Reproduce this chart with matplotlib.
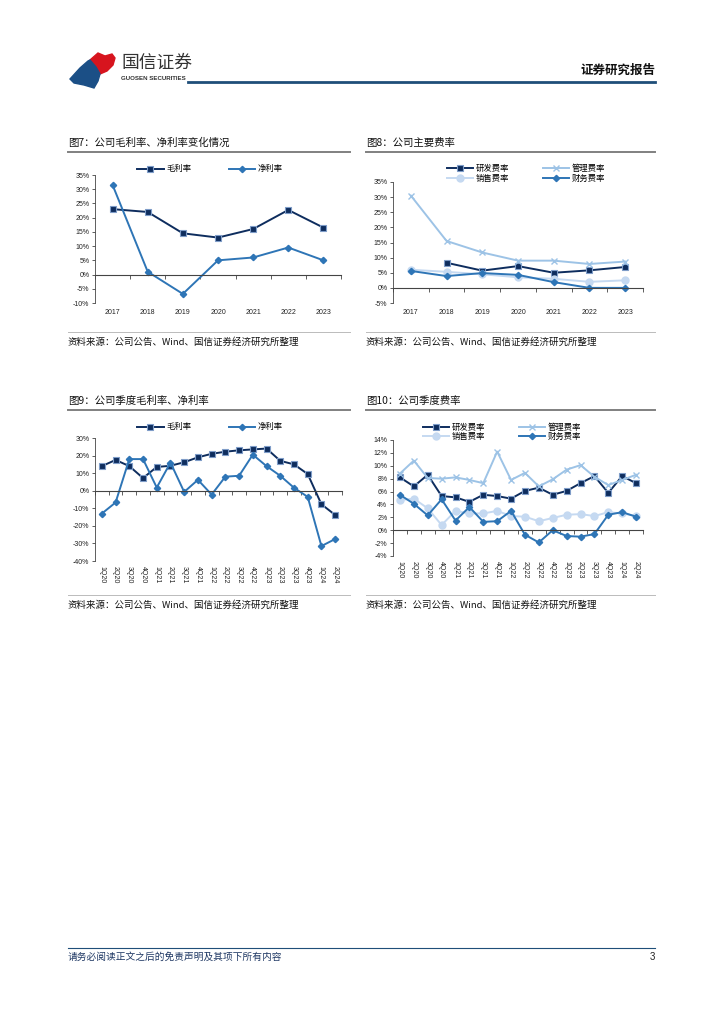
import numpy as np
import matplotlib
matplotlib.use("Agg")
import matplotlib.pyplot as plt
import matplotlib.transforms as mtransforms
from matplotlib.patches import Polygon
from matplotlib.lines import Line2D

plt.rcParams['font.family'] = ['Noto Sans CJK SC', 'DejaVu Sans']

# ---------------- data ----------------
years = ['2017', '2018', '2019', '2020', '2021', '2022', '2023']
gross_y = [23.0, 22.0, 14.5, 13.0, 16.0, 22.7, 16.5]
net_y = [31.5, 1.0, -6.8, 5.0, 6.0, 9.5, 5.0]

rd_y = [np.nan, 8.3, 5.7, 7.2, 5.0, 5.8, 6.9]
admin_y = [30.5, 15.5, 11.7, 9.0, 9.0, 7.9, 8.7]
sales_y = [6.0, 5.3, 4.5, 3.5, 3.0, 2.0, 2.5]
fin_y = [5.6, 3.9, 4.9, 4.3, 1.9, 0.0, 0.0]

quarters = ['1Q20', '2Q20', '3Q20', '4Q20', '1Q21', '2Q21', '3Q21', '4Q21', '1Q22',
            '2Q22', '3Q22', '4Q22', '1Q23', '2Q23', '3Q23', '4Q23', '1Q24', '2Q24']
gross_q = [14.0, 17.5, 14.0, 7.2, 13.5, 14.2, 16.2, 19.0, 21.0, 22.2, 23.0, 23.5, 24.0,
           17.0, 15.0, 9.5, -7.7, -13.8]
net_q = [-13.0, -6.7, 18.0, 18.0, 1.8, 16.0, -0.7, 6.2, -2.2, 8.0, 8.5, 20.5, 14.0,
         8.5, 1.7, -3.5, -31.5, -27.5]

rd_q = [8.2, 6.8, 8.6, 5.3, 5.1, 4.4, 5.5, 5.3, 4.9, 6.1, 6.6, 5.5, 6.1, 7.3, 8.4, 5.8, 8.4, 7.3]
admin_q = [8.8, 10.8, 8.1, 8.0, 8.2, 7.8, 7.3, 12.2, 7.8, 8.9, 6.8, 7.9, 9.4, 10.1, 8.3, 7.0, 7.8, 8.6]
sales_q = [4.7, 4.9, 3.4, 0.8, 3.0, 2.6, 2.6, 3.0, 2.2, 2.1, 1.4, 1.9, 2.4, 2.5, 2.2, 2.8, 2.6, 2.2]
fin_q = [5.5, 4.1, 2.3, 4.8, 1.5, 3.6, 1.3, 1.4, 3.0, -0.7, -1.9, 0.0, -0.9, -1.0, -0.6, 2.4, 2.8, 2.1]

# ---------------- layout ----------------
W, H = 724, 1024
fig = plt.figure(figsize=(W / 100, H / 100), dpi=100)

NAVY = '#0E2D5E'
NAVY_EDGE = '#7E9CC8'
BLUE = '#2E75B6'
LBLUE = '#9DC3E6'
VLBLUE = '#C5D9F1'
NUMFONT = ['Liberation Sans', 'DejaVu Sans']


def fx(x):
    return x / W


def fy(y):
    return 1 - y / H


def hline(x0, x1, y, color, lw):
    fig.add_artist(Line2D([fx(x0), fx(x1)], [fy(y), fy(y)], color=color, lw=lw,
                          transform=fig.transFigure))


def text(x, y, s, **kw):
    fig.text(fx(x), fy(y), s, **kw)


def make_ax(x0, x1, ytop, ybot, ylim, yticks, cats, label_y, rotate):
    ax = fig.add_axes([fx(x0), fy(ybot), fx(x1) - fx(x0), (ybot - ytop) / H])
    ax.set_ylim(*ylim)
    n = len(cats)
    ax.set_xlim(-0.5, n - 0.5)
    ax.set_yticks(yticks)
    ax.set_yticklabels(['%d%%' % v for v in yticks], fontsize=5, family=NUMFONT, color='#222222')
    ax.tick_params(axis='y', direction='out', length=2.5, width=0.6, pad=1.5, color='#444444')
    ax.set_xticks(np.arange(-0.5, n, 1.0))
    ax.set_xticklabels([])
    ax.tick_params(axis='x', direction='out', length=3, width=0.6, color='#444444')
    for s in ['top', 'right']:
        ax.spines[s].set_visible(False)
    ax.spines['left'].set_color('#444444')
    ax.spines['left'].set_linewidth(0.6)
    ax.spines['bottom'].set_position(('data', 0))
    ax.spines['bottom'].set_color('#444444')
    ax.spines['bottom'].set_linewidth(0.8)
    ax.patch.set_alpha(0)
    tr = mtransforms.blended_transform_factory(ax.transData, fig.transFigure)
    for i, c in enumerate(cats):
        if rotate:
            ax.text(i, fy(label_y), c, rotation=-90, ha='center', va='top', fontsize=5,
                    family=NUMFONT, transform=tr, color='#222222')
        else:
            ax.text(i, fy(label_y), c, ha='center', va='center', fontsize=5,
                    family=NUMFONT, transform=tr, color='#222222')
    return ax


def sq(ax, x, y, label):
    return ax.plot(x, y, color=NAVY, lw=1.4, marker='s', ms=5, mfc=NAVY, mec=NAVY_EDGE,
                   mew=0.8, label=label)[0]


def dia(ax, x, y, label):
    return ax.plot(x, y, color=BLUE, lw=1.4, marker='D', ms=3.2, mfc=BLUE, mec=BLUE,
                   label=label)[0]


def cross(ax, x, y, label):
    return ax.plot(x, y, color=LBLUE, lw=1.4, marker='x', ms=4.5, mew=1.0, mec=LBLUE,
                   label=label)[0]


def circ(ax, x, y, label):
    return ax.plot(x, y, color=VLBLUE, lw=1.4, marker='o', ms=5, mfc=VLBLUE, mec=VLBLUE,
                   label=label)[0]


# ---------------- header ----------------
red = [(90, 60), (98, 53), (105, 56), (112, 54), (115, 58), (113, 65), (107, 71), (100, 74), (96, 67)]
blue = [(70, 79), (80, 68), (88, 61), (90, 60), (96, 67), (100, 74), (98, 81), (94, 88), (84, 85), (74, 83)]
fig.add_artist(Polygon([(fx(a), fy(b)) for a, b in red], closed=True, color='#D7141E',
                       transform=fig.transFigure))
fig.add_artist(Polygon([(fx(a), fy(b)) for a, b in blue], closed=True, color='#1B4F86',
                       transform=fig.transFigure))
text(121, 63, '国信证券', fontsize=12.8, color='#333333', va='center', ha='left')
text(121, 78, 'GUOSEN SECURITIES', fontsize=4.4, color='#333333', va='center', ha='left',
     family=NUMFONT, weight='bold')
text(655, 70, '证券研究报告', fontsize=9, weight='bold', color='#111111', va='center', ha='right')
hline(188, 655, 82, '#1F4E79', 2.0)

# ---------------- footer ----------------
hline(68, 655, 948, '#1F4E79', 0.8)
text(68, 957, '请务必阅读正文之后的免责声明及其项下所有内容', fontsize=7, color='#1F3864',
     va='center', ha='left', style='italic')
text(655, 957, '3', fontsize=7, color='#222222', va='center', ha='right', family=NUMFONT)

# ---------------- titles / sources ----------------
src = '资料来源：公司公告、Wind、国信证券经济研究所整理'
for (x0, x1, ty, sy, title) in [
    (68, 350, 143, 342, '图7：公司毛利率、净利率变化情况'),
    (366, 655, 143, 342, '图8：公司主要费率'),
    (68, 350, 401, 605, '图9：公司季度毛利率、净利率'),
    (366, 655, 401, 605, '图10：公司季度费率'),
]:
    text(x0, ty, title, fontsize=7.5, va='center', ha='left', color='#111111')
    hline(x0, x1, ty + 9, '#808080', 1.4)
    hline(x0, x1, sy - 10, '#BBBBBB', 0.7)
    text(x0, sy, src, fontsize=6.8, va='center', ha='left', color='#111111')

# ---------------- chart 7 ----------------
xy = np.arange(len(years))
ax1 = make_ax(95, 341, 175, 303, (-10, 35), list(range(-10, 36, 5)), years, 313, False)
h1 = sq(ax1, xy, gross_y, '毛利率')
h2 = dia(ax1, xy, net_y, '净利率')
ax1.legend(handles=[h1, h2], ncol=2, loc='center', bbox_to_anchor=(fx(210), fy(169)),
           bbox_transform=fig.transFigure, frameon=False, fontsize=6, handlelength=3.2,
           columnspacing=4.5, handletextpad=0.3, borderpad=0)

# ---------------- chart 8 ----------------
ax2 = make_ax(393, 643, 182, 303, (-5, 35), list(range(-5, 36, 5)), years, 313, False)
a = sq(ax2, xy, rd_y, '研发费率')
b = circ(ax2, xy, sales_y, '销售费率')
c = cross(ax2, xy, admin_y, '管理费率')
d = dia(ax2, xy, fin_y, '财务费率')
ax2.legend(handles=[a, b, c, d], ncol=2, loc='center', bbox_to_anchor=(fx(526), fy(173.5)),
           bbox_transform=fig.transFigure, frameon=False, fontsize=6, handlelength=3.2,
           columnspacing=4.0, handletextpad=0.3, borderpad=0, labelspacing=0.05)

# ---------------- chart 9 ----------------
xq = np.arange(len(quarters))
ax3 = make_ax(95, 342, 438, 561, (-40, 30), list(range(-40, 31, 10)), quarters, 566, True)
h1 = sq(ax3, xq, gross_q, '毛利率')
h2 = dia(ax3, xq, net_q, '净利率')
ax3.legend(handles=[h1, h2], ncol=2, loc='center', bbox_to_anchor=(fx(210), fy(427)),
           bbox_transform=fig.transFigure, frameon=False, fontsize=6, handlelength=3.2,
           columnspacing=4.5, handletextpad=0.3, borderpad=0)

# ---------------- chart 10 ----------------
ax4 = make_ax(393, 643, 440, 556, (-4, 14), list(range(-4, 15, 2)), quarters, 561, True)
a = sq(ax4, xq, rd_q, '研发费率')
b = circ(ax4, xq, sales_q, '销售费率')
c = cross(ax4, xq, admin_q, '管理费率')
d = dia(ax4, xq, fin_q, '财务费率')
ax4.legend(handles=[a, b, c, d], ncol=2, loc='center', bbox_to_anchor=(fx(502), fy(432)),
           bbox_transform=fig.transFigure, frameon=False, fontsize=6, handlelength=3.2,
           columnspacing=4.0, handletextpad=0.3, borderpad=0, labelspacing=0.05)

fig.savefig('out.png', dpi=100)
